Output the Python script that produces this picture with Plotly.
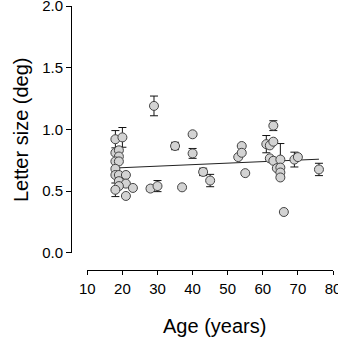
import plotly.graph_objects as go

# Data
ages = [18, 20, 18, 19, 19, 18, 19, 18, 18, 19, 21, 19, 21, 19, 18, 23, 21,
        28, 30, 29, 35, 37, 40, 40, 43, 45, 53, 54, 54, 55,
        61, 62, 63, 63, 62, 63, 64, 65, 65, 65, 65, 66, 69, 70, 76]
letter_size = [0.92, 0.935, 0.81, 0.83, 0.78, 0.74, 0.74, 0.68, 0.63, 0.63, 0.63, 0.58, 0.56, 0.54, 0.51, 0.525, 0.46,
               0.52, 0.54, 1.19, 0.865, 0.53, 0.96, 0.805, 0.655, 0.585, 0.775, 0.865, 0.81, 0.645,
               0.88, 0.87, 0.90, 1.03, 0.765, 0.745, 0.685, 0.755, 0.69, 0.65, 0.61, 0.33, 0.755, 0.775, 0.675]
letter_err = [0.07, 0.08, 0, 0, 0, 0, 0, 0, 0, 0, 0, 0, 0, 0, 0.055, 0, 0,
              0.02, 0.045, 0.08, 0.03, 0, 0, 0.04, 0.03, 0.05, 0, 0, 0, 0,
              0.07, 0, 0, 0.04, 0, 0, 0, 0.13, 0, 0, 0, 0, 0.06, 0, 0.05]
fit_age = [19, 76]
fit_val = [0.688, 0.758]
x_ticks = [10, 20, 30, 40, 50, 60, 70, 80]
y_ticks = [0.0, 0.5, 1.0, 1.5, 2.0]

FONT = "Liberation Sans, Arial, Helvetica, sans-serif"

fig = go.Figure()
fig.add_trace(go.Scatter(
    x=fit_age, y=fit_val, mode="lines",
    line=dict(color="#222222", width=1), showlegend=False, hoverinfo="skip"))
fig.add_trace(go.Scatter(
    x=ages, y=letter_size, mode="markers",
    marker=dict(size=9, color="#d3d3d3", line=dict(color="#444444", width=1)),
    error_y=dict(type="data", array=letter_err, symmetric=True,
                 color="#111111", thickness=1, width=4),
    showlegend=False))

W, H = 338, 338
L, R, T, B = 71, 5, 6, 68
pw, ph = W - L - R, H - T - B

fig.update_layout(
    width=W, height=H,
    margin=dict(l=L, r=R, t=T, b=B, autoexpand=False),
    paper_bgcolor="white", plot_bgcolor="white",
    font=dict(family=FONT, color="black", size=15),
    xaxis=dict(
        range=[10, 80], domain=[(87.3 - L) / pw, 1],
        anchor="free", position=0,
        tickmode="array", tickvals=x_ticks,
        showline=True, linecolor="black", linewidth=1,
        ticks="outside", ticklen=4, tickcolor="black", tickwidth=1,
        showgrid=False, zeroline=False, automargin=False,
        ticklabelstandoff=1, ticklabeloverflow="allow",
        tickfont=dict(size=15, family=FONT, color="black"),
    ),
    yaxis=dict(
        range=[0, 2], domain=[(270 - 252.7) / ph, 1],
        anchor="free", position=0,
        tickmode="array", tickvals=y_ticks, tickformat=".1f",
        showline=True, linecolor="black", linewidth=1,
        ticks="outside", ticklen=5, tickcolor="black", tickwidth=1,
        showgrid=False, zeroline=False, automargin=False,
        ticklabeloverflow="allow",
        tickfont=dict(size=15, family=FONT, color="black"),
    ),
    annotations=[
        dict(text="Age (years)", xref="paper", yref="paper",
             x=(214 - L) / pw, y=(270 - 326) / ph, showarrow=False,
             xanchor="center", yanchor="middle",
             font=dict(size=20, family=FONT, color="black")),
        dict(text="Letter size (deg)", xref="paper", yref="paper",
             x=(21 - L) / pw, y=(270 - 130) / ph, showarrow=False,
             textangle=-90, xanchor="center", yanchor="middle",
             font=dict(size=20, family=FONT, color="black")),
    ],
)

fig.write_html("out.html")
